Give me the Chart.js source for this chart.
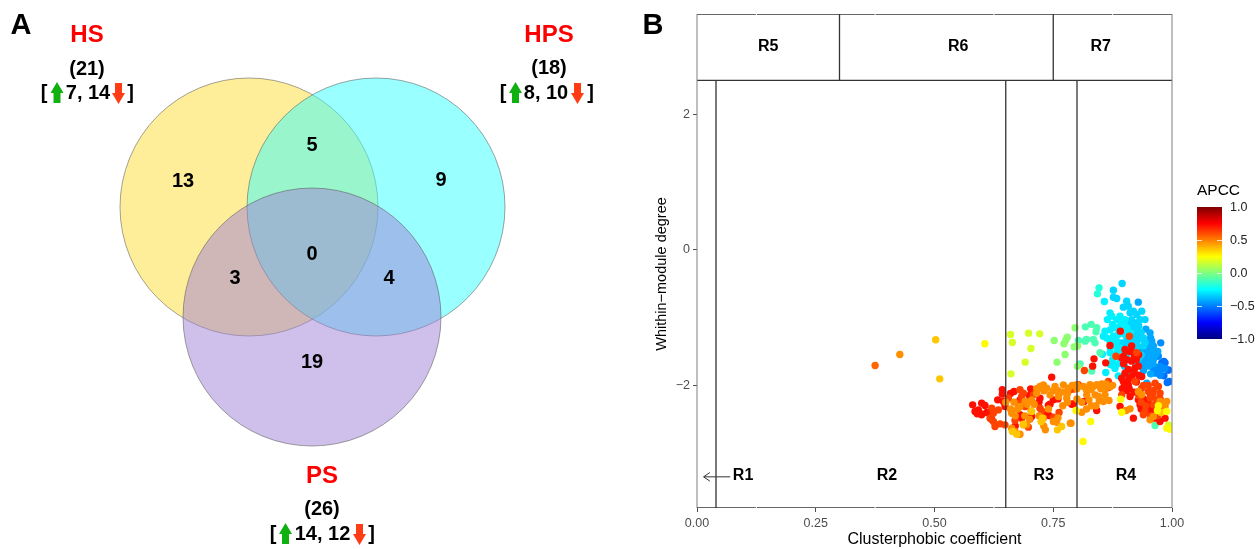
<!DOCTYPE html>
<html>
<head>
<meta charset="utf-8">
<title>Venn and cartographic plot</title>
<script src="https://cdn.jsdelivr.net/npm/chart.js@4"></script>
<style>
  html, body { margin: 0; padding: 0; background: #fff; overflow: hidden; }
  #panelA { position: absolute; left: 0; top: 0; }
  #panelB { position: absolute; left: 640px; top: 0; }
</style>
</head>
<body>
<canvas id="panelA" width="640" height="549"></canvas>
<canvas id="panelB" width="617" height="549"></canvas>
<script>
// ---- Panel A: Venn ----
const vennNames   = ["HS", "HPS", "PS"];
const vennCentreX = [249, 376, 312];
const vennCentreY = [207, 207, 317];
const vennRadius  = [129, 129, 129];
const vennCounts  = ["13", "5", "9", "0", "3", "4", "19"];
const countX      = [183, 312, 441, 312, 235, 389, 312];
const countY      = [181, 145, 180, 254, 278, 278, 362];
const vennTotals  = ["(21)", "(18)", "(26)"];
const vennUpDown  = ["7, 14", "8, 10", "14, 12"];

// ---- Panel B: axis ticks and region lines ----
const xTicks = [0, 0.25, 0.5, 0.75, 1];
const yTicks = [-2, 0, 2];
const xRange = [0, 1];
const yRange = [-3.81, 3.48];
const regionSplit = 2.5;
const lowerBounds = [0.04, 0.65, 0.8];
const upperBounds = [0.3, 0.75];
const regionNames = ["R1", "R2", "R3", "R4", "R5", "R6", "R7"];
const regionX     = [0.097, 0.4, 0.73, 0.903, 0.15, 0.55, 0.85];
const regionY     = [-3.33, -3.33, -3.33, -3.33, 3.0, 3.0, 3.0];
const apccTicks   = [1, 0.5, 0, -0.5, -1];

// jet stops used by both the points and the legend bar
const jetValues = [-1, -0.75, -0.5, -0.25, 0, 0.25, 0.5, 0.75, 1];
const jetColors = [[0,0,127],[0,0,255],[0,127,255],[0,255,255],[127,255,127],[255,255,0],[255,127,0],[255,0,0],[127,0,0]];

// ---- Scatter points [coefficient, degree], grouped by APCC ----
const apccM053 = [[.983,-1.648],[.9925,-1.771],[.983,-1.86],[.9945,-1.943],[.990,-1.958],[.9924,-1.776],[.9783,-1.668],[.9854,-1.668]];
const apccM047 = [[.9763,-1.373],[.975,-1.72],[.9608,-1.746],[.9748,-1.766],[.9713,-1.57],[.9643,-1.73],[.975,-1.85],[.985,-1.75],[.965,-1.82]];
const apccM042 = [[.929,-.772],[.9538,-1.225],[.9573,-1.348],[.9608,-1.42],[.9503,-1.447],[.9432,-1.47],[.9538,-1.52],[.9643,-1.496],[.9608,-1.62],[.9503,-1.62],[.9397,-1.62],[.936,-1.69],[.9503,-1.717],[.947,-1.968],[.9327,-1.47],
  [.945,-1.17],[.95,-1.38],[.955,-1.3],[.945,-1.53],[.955,-1.57],[.965,-1.55],[.97,-1.5],[.96,-1.68],[.945,-1.68],[.94,-1.78],[.955,-1.83]];
const apccM033 = [[.895,-.497],[.8766,-.595],[.8766,-.699],[.8836,-.718],[.9046,-.758],[.8976,-.846],[.908,-.832],[.9117,-.93],[.9187,-.905],[.9257,-.955],[.9362,-.905],[.9432,-1.03],[.9327,-1.03],[.9257,-1.078],[.915,-1.03],[.9187,-1.15],[.9292,-1.2],[.9222,-1.324],[.9257,-1.397],[.9397,-1.3],[.9432,-1.373],[.908,-1.348],[.894,-1.373],[.908,-1.86],
  [.905,-1.3],[.915,-1.28],[.925,-1.25],[.935,-1.22],[.93,-1.32],[.94,-1.42],[.93,-1.6],[.925,-1.45],[.935,-1.55],[.918,-1.4],[.91,-1.45],[.9,-1.4],[.92,-1.1],[.93,-1.12],[.91,-1.08],[.925,-1.7],[.9,-1.72]];
const apccM028 = [[.8576,-.763],[.8695,-.93],[.873,-.979],[.864,-1.03],[.8906,-.979],[.8836,-1.03],[.894,-1.053],[.901,-1.03],[.9046,-1.15],[.8906,-1.127],[.9117,-1.225],[.901,-1.25],[.887,-1.25],[.8766,-1.275],[.859,-1.2],[.8555,-1.275],[.8625,-1.3],[.8695,-1.348],[.8836,-1.348],[.894,-1.47],[.8836,-1.52],[.8695,-1.52],[.8534,-1.54],[.8695,-1.69],[.8836,-1.69],[.887,-1.86],[.8605,-1.81],[.873,-1.70],[.891,-1.673],
  [.9,-1.1],[.89,-1.2],[.88,-1.15],[.875,-1.1],[.87,-1.18],[.88,-1.42],[.87,-1.44],[.89,-1.45],[.905,-1.55],[.89,-1.6],[.875,-1.62],[.88,-1.75]];
const apccM018 = [[.8464,-.561],[.843,-.65]];
const apccM010 = [[.8176,-1.137],[.830,-1.10],[.8415,-1.15],[.84,-1.21],[.803,-1.338],[.817,-1.348],[.8345,-1.324],[.820,-1.324],[.838,-1.373],[.8485,-1.52],[.8064,-1.683],[.831,-1.79],[.9643,-2.593]];
const apccP003 = [[.796,-1.15],[.794,-1.432],[.801,-1.42],[.801,-1.717],[.775,-1.545],[.7726,-1.387],[.776,-1.339],[.7796,-1.29],[.752,-1.339],[.758,-1.658]];
const apccP017 = [[.660,-1.25],[.664,-1.368],[.698,-1.23],[.7215,-1.24],[.703,-1.457],[.691,-1.658],[.661,-1.83],[.9397,-2.361],[.9924,-2.583]];
const apccP075 = [[.8913,-1.2],[.8695,-1.412],[.8358,-1.609],[.833,-1.717],[.8604,-1.668],[.901,-1.47],[.8976,-1.57],[.915,-1.42],[.9187,-1.52],[.915,-1.643],[.9222,-1.742],[.9292,-1.717],[.908,-1.766],[.894,-1.594],
  [.8976,-1.943],[.908,-1.992],[.9046,-2.076],[.9117,-2.165],[.866,-2.032],[.8148,-2.238],[.7923,-2.273],[.8906,-2.312],[.8415,-2.371],[.9187,-2.484],[.9327,-2.288],[.9503,-2.263],[.9573,-2.337],[.9432,-2.312],[.9643,-2.484],[.9748,-2.534],[.9854,-2.484],[.9292,-2.214],[.8941,-1.894],[.901,-1.82],[.9152,-1.869],[.9362,-1.869],
  [.5803,-2.288],[.5993,-2.263],[.6063,-2.298],[.5923,-2.362],[.5853,-2.386],[.5993,-2.435],[.5958,-2.411],[.6428,-2.066],[.6428,-2.13],[.633,-2.214],[.645,-2.239],[.6484,-2.312],[.6674,-2.091],[.7025,-2.052],[.7046,-2.091],[.68,-2.214],[.7221,-2.189],[.7467,-1.879],[.7502,-2.214],[.7432,-2.278],[.7397,-2.298],[.68,-2.435],[.6835,-2.485],[.7046,-2.46],[.7011,-2.494],[.7411,-2.445],[.7327,-2.435],[.7888,-2.278],
  [.905,-1.62],[.91,-1.5],[.92,-1.6],[.925,-1.62],[.93,-1.55],[.898,-1.68],[.92,-1.8],[.93,-1.85],[.925,-1.95],[.91,-1.9],[.9,-2.0],[.91,-2.05],[.895,-2.05],[.92,-2.1],[.94,-2.2],[.955,-2.15],[.97,-2.3],[.95,-2.4],[.965,-2.4],[.935,-2.35],
  [.61,-2.4],[.62,-2.5],[.59,-2.42],[.66,-2.12],[.71,-2.12],[.7,-2.15],[.72,-2.25],[.76,-2.2],[.67,-2.6]];
const apccP062 = [[.882,-1.57],[.9257,-1.52],[.9103,-1.275],[.8155,-1.78],
  [.8941,-2.14],[.9432,-2.386],[.9397,-2.435],[.9503,-2.091],[.9608,-2.076],[.9538,-2.189],[.9678,-2.214],[.9362,-2.042],[.9222,-1.943],[.9643,-1.968],[.9713,-2.017],[.9748,-2.115],[.9608,-2.288],[.866,-1.943],[.8029,-1.992],[.7923,-2.056],[.7853,-2.066],
  [.6204,-2.337],[.6344,-2.362],[.617,-2.485],[.6239,-2.534],[.6274,-2.608],[.638,-2.568],[.6484,-2.583],[.6695,-2.519],[.6976,-2.617],[.6555,-2.189],[.6835,-2.165],[.687,-2.116],[.68,-2.066],[.6906,-2.312],[.6765,-2.263],[.7221,-2.337],[.7257,-2.376],[.7622,-2.401],[.7502,-2.47],[.7081,-2.14],[.6239,-2.411],
  [.94,-2.0],[.95,-2.0],[.96,-2.15],[.975,-2.2],[.98,-2.35],[.97,-2.45],[.955,-2.45],[.945,-2.3],[.93,-2.15],[.935,-2.25]];
const apccP055 = [[.375,-1.708]];
const apccP045 = [[.427,-1.545],[.81,-2.396],[.7874,-2.558],[.8253,-2.214],[.8471,-2.224],[.8674,-2.224],[.8555,-2.238],[.845,-2.165],[.838,-2.14],[.8204,-2.14],[.8274,-1.992],[.8415,-1.992],[.852,-1.978],[.8611,-1.978],[.8344,-2.017],[.8134,-2.017],[.7993,-1.992],[.859,-2.14],[.9117,-2.347],[.9033,-2.371],[.9292,-2.091],[.9362,-2.14],[.9538,-2.509],[.9608,-2.46],[.9748,-2.238],[.9854,-2.312],[.9889,-2.238],
  [.6674,-2.248],[.6625,-2.411],[.68,-2.312],[.6906,-2.239],[.7046,-2.214],[.7151,-2.116],[.7292,-1.993],[.7221,-2.017],[.7362,-2.042],[.7537,-2.017],[.7432,-2.14],[.7713,-1.993],[.7818,-2.042],[.7608,-2.165],[.7783,-2.189],[.786,-2.558],[.6625,-2.632],[.6695,-2.681],[.68,-2.721],[.6871,-2.583],[.6941,-2.583],[.7334,-2.657],[.7502,-2.534],[.7572,-2.544],[.7032,-2.376],[.7292,-2.485],
  [.65,-2.25],[.66,-2.35],[.675,-2.35],[.695,-2.28],[.71,-2.28],[.715,-2.05],[.73,-2.08],[.75,-2.08],[.76,-2.08],[.77,-2.1],[.78,-2.12],[.79,-2.0],[.8,-2.05],[.82,-2.07],[.83,-2.06],[.85,-2.05],[.86,-2.05],[.87,-2.02],[.875,-2.0],
  [.74,-2.35],[.72,-2.45],[.7,-2.5],[.67,-2.45],[.69,-2.45],[.73,-2.6],[.76,-2.48],[.77,-2.3],[.78,-2.25],[.8,-2.2],[.81,-2.25],[.83,-2.3],[.84,-2.3],[.82,-2.35]];
const apccP036 = [[.5025,-1.328],[.511,-1.904],[.6639,-2.681],[.673,-2.721],[.7243,-2.534],[.7271,-2.485],[.7587,-2.657],[.7678,-2.608],[.687,-2.573],[.7046,-2.386],[.977,-2.401]];
const apccP026 = [[.606,-1.387],[.8288,-2.534],[.8127,-2.829],[.7979,-2.371],[.8941,-2.396],[.9889,-2.386],[.9713,-2.302],[.9692,-2.371],[.9959,-2.647],[.9889,-2.632],[.892,-2.204]];

const pointGroups = [
  [-0.53, apccM053], [-0.47, apccM047], [-0.42, apccM042], [-0.33, apccM033], [-0.28, apccM028],
  [-0.18, apccM018], [-0.1, apccM010], [0.03, apccP003], [0.17, apccP017], [0.72, apccP075],
  [0.62, apccP062], [0.55, apccP055], [0.47, apccP045], [0.36, apccP036], [0.26, apccP026]
];

function jet(v) {
  let i = 0;
  while (i < jetValues.length - 2 && v > jetValues[i + 1]) i++;
  const t = (v - jetValues[i]) / (jetValues[i + 1] - jetValues[i]);
  const c = jetColors[i].map((a, k) => Math.round(a + (jetColors[i + 1][k] - a) * t));
  return `rgb(${c[0]},${c[1]},${c[2]})`;
}

const FONT = "'Liberation Sans', Arial, sans-serif";

function drawText(ctx, text, x, y, font, color, align) {
  ctx.font = font;
  ctx.fillStyle = color;
  ctx.textAlign = align || "center";
  ctx.textBaseline = "middle";
  ctx.fillText(text, x, y);
}

// block arrow, dir -1 points up and +1 points down
function drawArrow(ctx, cx, y0, y1, dir, color) {
  const tip = dir < 0 ? y0 : y1;
  const base = dir < 0 ? y1 : y0;
  const neck = tip - dir * 11;
  ctx.fillStyle = color;
  ctx.beginPath();
  ctx.moveTo(cx, tip);
  ctx.lineTo(cx + 6.5, neck);
  ctx.lineTo(cx + 3.5, neck);
  ctx.lineTo(cx + 3.5, base);
  ctx.lineTo(cx - 3.5, base);
  ctx.lineTo(cx - 3.5, neck);
  ctx.lineTo(cx - 6.5, neck);
  ctx.closePath();
  ctx.fill();
}

const vennLabels = {
  id: "vennLabels",
  afterDatasetsDraw(chart) {
    const ctx = chart.ctx;
    const sx = chart.scales.x, sy = chart.scales.y;
    ctx.save();
    drawText(ctx, "A", 21, 26, `bold 29px ${FONT}`, "#000");
    vennCounts.forEach((c, i) => {
      drawText(ctx, c, sx.getPixelForValue(countX[i]), sy.getPixelForValue(countY[i]), `bold 20px ${FONT}`, "#000");
    });
    const nameX = [87, 549, 322], nameY = [35, 35, 476], totalY = [69, 68, 509], rowY = [93, 93, 534];
    const openX = [44, 503, 273], upX = [57, 515.5, 285.5], valX = [88, 546, 322.5], downX = [118.5, 577.5, 359.5], closeX = [130.5, 590.5, 371.5];
    const green = "#10b010", red = "#ff3c14";
    vennNames.forEach((n, i) => {
      drawText(ctx, n, nameX[i], nameY[i], `bold 24px ${FONT}`, "#ff0000");
      drawText(ctx, vennTotals[i], nameX[i], totalY[i], `bold 20px ${FONT}`, "#000");
      drawText(ctx, "[", openX[i], rowY[i], `bold 20px ${FONT}`, "#000");
      drawText(ctx, vennUpDown[i], valX[i], rowY[i], `bold 20px ${FONT}`, "#000");
      drawText(ctx, "]", closeX[i], rowY[i], `bold 20px ${FONT}`, "#000");
      drawArrow(ctx, upX[i], rowY[i] - 11, rowY[i] + 10, -1, green);
      drawArrow(ctx, downX[i], rowY[i] - 10, rowY[i] + 11, 1, red);
    });
    ctx.restore();
  }
};

new Chart(document.getElementById("panelA"), {
  type: "bubble",
  data: {
    datasets: [{
      data: vennCentreX.map((x, i) => ({ x, y: vennCentreY[i], r: vennRadius[i] })),
      backgroundColor: ["rgba(255,221,51,0.5)", "rgba(51,255,255,0.5)", "rgba(160,130,215,0.5)"],
      borderColor: "rgba(90,90,90,0.55)",
      borderWidth: 1,
      clip: false
    }]
  },
  options: {
    responsive: false,
    animation: false,
    events: [],
    layout: { padding: 0, autoPadding: false },
    plugins: { legend: { display: false }, tooltip: { enabled: false } },
    scales: {
      x: { display: false, min: 0, max: 640 },
      y: { display: false, min: 0, max: 549, reverse: true }
    }
  },
  plugins: [vennLabels]
});

// Texto y adornos del panel B
const regionLabels = {
  id: "regionLabels",
  afterDatasetsDraw(chart) {
    const ctx = chart.ctx;
    const sx = chart.scales.x, sy = chart.scales.y;
    const a = chart.chartArea;
    ctx.save();
    // borde gris izquierdo y derecho
    ctx.strokeStyle = "#7f7f7f";
    ctx.lineWidth = 1;
    ctx.beginPath();
    ctx.moveTo(a.left, a.top); ctx.lineTo(a.left, a.bottom);
    ctx.moveTo(a.right, a.top); ctx.lineTo(a.right, a.bottom);
    ctx.stroke();
    // muescas blancas de la grilla menor sobre las lineas
    ctx.strokeStyle = "#fff";
    [0.125, 0.375, 0.625, 0.875].forEach(v => {
      const px = sx.getPixelForValue(v);
      ctx.beginPath();
      ctx.moveTo(px, a.top - 1); ctx.lineTo(px, a.top + 1);
      ctx.moveTo(px, a.bottom - 1); ctx.lineTo(px, a.bottom + 1);
      ctx.stroke();
    });
    regionNames.forEach((n, i) => {
      drawText(ctx, n, sx.getPixelForValue(regionX[i]), sy.getPixelForValue(regionY[i]), `bold 16px ${FONT}`, "#000");
    });
    drawText(ctx, "B", 13, 26, `bold 29px ${FONT}`, "#000");

    // titulo del eje y, centrado como en la figura
    ctx.save();
    ctx.translate(22, 274);
    ctx.rotate(-Math.PI / 2);
    drawText(ctx, "Whithin\u2212module degree", 0, 0, `14.5px ${FONT}`, "#000");
    ctx.restore();

    // leyenda APCC
    const barL = 557, barW = 25, barT = 207, barH = 132;
    drawText(ctx, "APCC", barL, 191, `15.5px ${FONT}`, "#000", "left");
    const grad = ctx.createLinearGradient(0, barT, 0, barT + barH);
    jetValues.forEach((v, i) => {
      const c = jetColors[i];
      grad.addColorStop((1 - v) / 2, `rgb(${c[0]},${c[1]},${c[2]})`);
    });
    ctx.fillStyle = grad;
    ctx.fillRect(barL, barT, barW, barH);
    ctx.strokeStyle = "rgba(255,255,255,0.8)";
    apccTicks.forEach(v => {
      const py = Math.round(barT + (1 - v) / 2 * barH) + 0.5;
      if (Math.abs(v) < 1) {
        ctx.beginPath();
        ctx.moveTo(barL, py); ctx.lineTo(barL + 5, py);
        ctx.moveTo(barL + barW - 5, py); ctx.lineTo(barL + barW, py);
        ctx.stroke();
      }
      const label = (v < 0 ? "\u2212" : "") + Math.abs(v).toFixed(1);
      drawText(ctx, label, barL + barW + 8, py, `12.5px ${FONT}`, "#222", "left");
    });
    ctx.restore();
  }
};

const lineStyle = { type: "scatter", showLine: true, pointRadius: 0, borderColor: "#333", borderWidth: 1.3, order: -100, fill: false };
const segment = (x0, y0, x1, y1) => [{ x: x0, y: y0 }, { x: x1, y: y1 }];

const scatterSets = pointGroups.map(([apcc, pts], i) => ({
  data: pts.map(p => ({ x: p[0], y: p[1] })),
  backgroundColor: jet(apcc),
  borderWidth: 0,
  pointRadius: 3.7,
  order: -i
}));

const lineSets = [
  { ...lineStyle, data: segment(xRange[0], yRange[1], xRange[1], yRange[1]) },
  { ...lineStyle, data: segment(xRange[0], regionSplit, xRange[1], regionSplit) },
  { ...lineStyle, data: segment(xRange[0], yRange[0], xRange[1], yRange[0]) },
  ...lowerBounds.map(b => ({ ...lineStyle, data: segment(b, yRange[0], b, regionSplit) })),
  ...upperBounds.map(b => ({ ...lineStyle, data: segment(b, regionSplit, b, yRange[1]) })),
  // flecha de R1
  { ...lineStyle, borderWidth: 1, data: segment(0.07, -3.35, 0.014, -3.35) },
  { ...lineStyle, borderWidth: 1, data: [{ x: 0.027, y: -3.287 }, { x: 0.014, y: -3.35 }, { x: 0.027, y: -3.413 }] }
];

new Chart(document.getElementById("panelB"), {
  type: "scatter",
  data: { datasets: [...scatterSets, ...lineSets] },
  options: {
    responsive: false,
    animation: false,
    events: [],
    layout: { padding: { top: 14, right: 85, left: 0, bottom: 0 } },
    plugins: { legend: { display: false }, tooltip: { enabled: false } },
    scales: {
      x: {
        min: xRange[0], max: xRange[1],
        afterFit(axis) { axis.height = 41; },
        afterBuildTicks(axis) { axis.ticks = xTicks.map(value => ({ value })); },
        ticks: { color: "#4d4d4d", font: { family: FONT, size: 12.5 }, padding: 4, maxRotation: 0, callback: v => v.toFixed(2) },
        grid: { drawOnChartArea: false, color: "#4d4d4d", tickLength: 4 },
        border: { display: false },
        title: { display: true, text: "Clusterphobic coefficient", color: "#000", font: { family: FONT, size: 16 }, padding: { top: 0, bottom: 0 } }
      },
      y: {
        min: yRange[0], max: yRange[1],
        afterFit(axis) { axis.width = 57; },
        afterBuildTicks(axis) { axis.ticks = yTicks.map(value => ({ value })); },
        ticks: { color: "#4d4d4d", font: { family: FONT, size: 12.5 }, padding: 3, callback: v => (v < 0 ? "\u2212" : "") + Math.abs(v) },
        grid: { drawOnChartArea: false, color: "#4d4d4d", tickLength: 4 },
        border: { display: false }
      }
    }
  },
  plugins: [regionLabels]
});
</script>
</body>
</html>
